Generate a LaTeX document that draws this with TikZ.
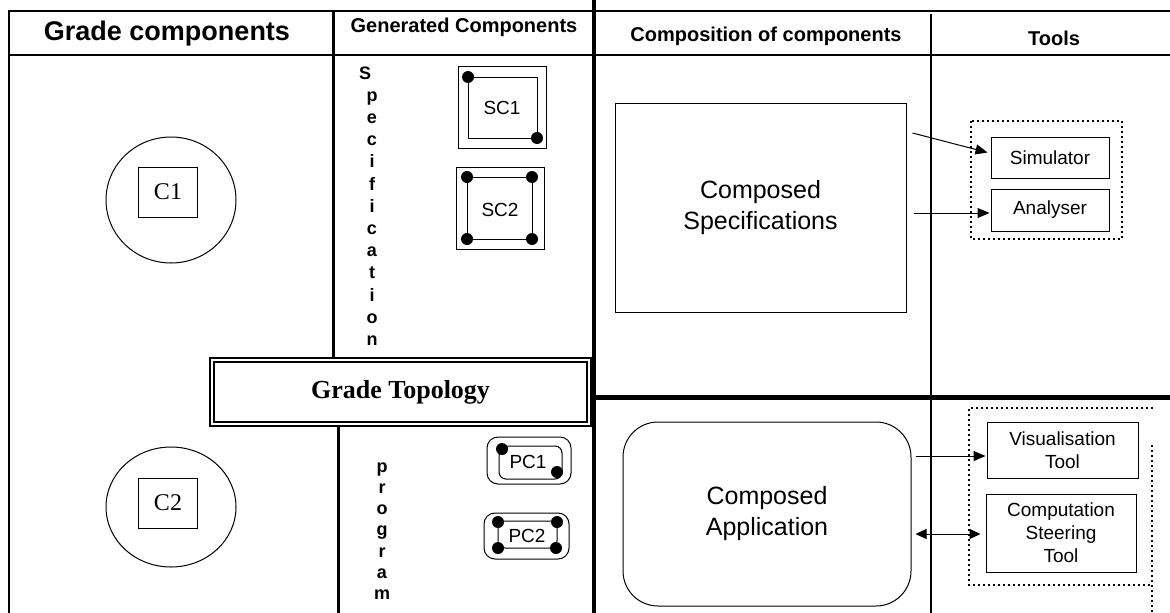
\documentclass[tikz,border=0pt]{standalone}
\usepackage{fontspec}
\setmainfont{Liberation Serif}
\setsansfont{Liberation Sans}
\usetikzlibrary{arrows.meta,shapes.geometric}
\begin{document}
\begin{tikzpicture}[x=1pt,y=-1pt,
  hdr/.style={font=\sffamily\bfseries\fontsize{20}{24}\selectfont},
  vl/.style={font=\sffamily\bfseries\fontsize{18}{22}\selectfont,anchor=base},
  lbl/.style={font=\sffamily\fontsize{19}{23}\selectfont},
  big/.style={font=\sffamily\fontsize{25}{31}\selectfont,align=center},
  tbox/.style={draw,line width=1pt,font=\sffamily\fontsize{19}{23}\selectfont,align=center,inner sep=0pt},
  dt/.style={fill=black,circle,inner sep=0pt,minimum size=12pt},
  dotb/.style={line width=1.5pt,dash pattern=on 2pt off 3pt},
  arr/.style={line width=1pt,-{Triangle[length=12pt,width=10pt]}},
  darr/.style={line width=1pt,{Triangle[length=11pt,width=10pt]}-{Triangle[length=11pt,width=10pt]}},
  sq/.style={draw,line width=1pt},
]
\useasboundingbox (0,0) rectangle (1170,613);
% grid lines
\draw[line width=1.3pt] (9,613) -- (9,11) -- (1170,11);
\draw[line width=2pt] (9,55) -- (1170,55);
\draw[line width=3pt] (333,11) -- (333,357);
\draw[line width=3pt] (338,427) -- (338,613);
\draw[line width=4pt] (594,0) -- (594,613);
\draw[line width=2pt] (931,14) -- (931,613);
\draw[line width=5pt] (594,397) -- (1170,397);

% headers
\node[font=\sffamily\bfseries\fontsize{27}{32}\selectfont] (h1) at (167,34) {Grade components};
\node[hdr] (h2) at (464,27) {Generated Components};
\node[hdr] (h3) at (766,36) {Composition of components};
\node[hdr] (h4) at (1054,38) {Tools};

% vertical words
\node[vl] (s0) at (365,79) {S};
\foreach \l [count=\i] in {p,e,c,i,f,i,c,a,t,i,o,n}{
  \node[vl] (s\i) at (372,{79+22.2*\i}) {\l};
}
\foreach \l [count=\i from 0] in {p,r,o,g,r,a,m}{
  \node[vl] (p\i) at (382,{472+21.3*\i}) {\l};
}

% C1, C2
\node[draw,ellipse,line width=1pt,minimum width=130pt,minimum height=126pt] (e1) at (171,200) {};
\node[draw,line width=1pt,minimum width=59pt,minimum height=50pt,font=\fontsize{24}{28}\selectfont] (c1) at (168,192) {C1};
\node[draw,ellipse,line width=1pt,minimum width=130pt,minimum height=120pt] (e2) at (171,507) {};
\node[draw,line width=1pt,minimum width=59pt,minimum height=50pt,font=\fontsize{24}{28}\selectfont] (c2) at (168,503) {C2};

% SC1
\draw[sq] (458,66) rectangle (546,148);
\draw[sq] (468,77) rectangle (537,138);
\node[dt] at (468,77) {};
\node[dt] at (537,138) {};
\node[lbl] (sc1) at (502,108) {SC1};
% SC2
\draw[sq] (456,167) rectangle (544,249);
\draw[sq] (467,177) rectangle (532,239);
\node[dt] at (467,177) {};
\node[dt] at (532,177) {};
\node[dt] at (467,239) {};
\node[dt] at (532,239) {};
\node[lbl] (sc2) at (500,210) {SC2};
% PC1
\draw[sq,rounded corners=11pt] (487,437) rectangle (571,484);
\draw[sq,rounded corners=7pt] (499,446) rectangle (562,479);
\node[dt] at (502,449) {};
\node[dt] at (557,472) {};
\node[lbl] (pc1) at (528,462) {PC1};
% PC2
\draw[sq,rounded corners=11pt] (484,513) rectangle (569,559);
\draw[sq,rounded corners=7pt] (498,521) rectangle (557,548);
\node[dt] at (498,522) {};
\node[dt] at (557,522) {};
\node[dt] at (498,548) {};
\node[dt] at (556,548) {};
\node[lbl] (pc2) at (527,536) {PC2};

% Grade topology
\node[draw,line width=2pt,double,double distance=2.5pt,minimum width=377pt,minimum height=64pt,fill=white,
  font=\bfseries\fontsize{26}{30}\selectfont] (gt) at (400.5,392) {Grade Topology};

% composed
\node[draw,line width=1pt,minimum width=291pt,minimum height=209pt,big] (spec) at (760.5,207.5) {Composed\\Specifications};
\node[draw,line width=1pt,rounded corners=35pt,minimum width=288pt,minimum height=184pt,big] (app) at (767,514) {Composed\\Application};

% tools
\draw[dotb] (971,121) rectangle (1122,239);
\node[tbox,minimum width=118pt,minimum height=41pt] (sim) at (1050,157.5) {Simulator};
\node[tbox,minimum width=118pt,minimum height=42pt] (ana) at (1050,210) {Analyser};
\draw[dotb] (1153,408) -- (969,408) -- (969,585) -- (1152,585);
\draw[dotb] (1152,445) -- (1152,613);
\node[tbox,minimum width=151pt,minimum height=56pt] (vis) at (1062.5,450) {Visualisation\\Tool};
\node[tbox,minimum width=150pt,minimum height=78pt] (comp) at (1061,533) {Computation\\Steering\\Tool};

% arrows
\draw[arr] ([shift={(6,-74.5)}]spec.east) -- ([shift={(-3,-5)}]sim.west);
\draw[arr] ([shift={(7,5.5)}]spec.east) -- ([shift={(-1,3)}]ana.west);
\draw[arr] ([shift={(4,-58)}]app.east) -- ([shift={(-1,6)}]vis.west);
\draw[darr] ([shift={(4,20)}]app.east) -- ([shift={(-5,1)}]comp.west);
\end{tikzpicture}
\end{document}
